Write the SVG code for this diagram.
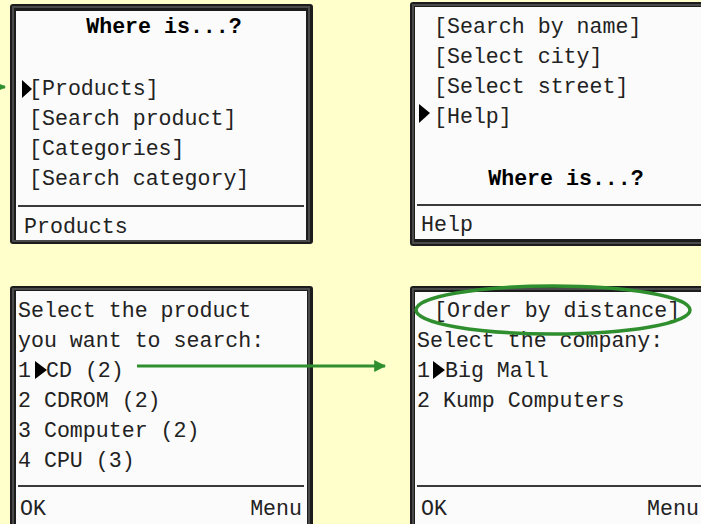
<svg xmlns="http://www.w3.org/2000/svg" width="701" height="524" viewBox="0 0 701 524">
<defs>
<style>
.frame{fill:#1c1c1c}
.bevel{fill:none;stroke:#4a4a4a;stroke-width:2}
.screen{fill:#fbfbfb}
.sep{stroke:#3a3a3a;stroke-width:2}
.t{font-family:"Liberation Mono","DejaVu Sans Mono",monospace;font-size:21.6px;fill:#222}
.b{font-weight:bold;fill:#000}
.tri{fill:#000}
.conn{stroke:#2f8f2f;stroke-width:3;fill:none}
</style>
<marker id="ah" viewBox="0 0 10 10" refX="9" refY="5" markerWidth="4" markerHeight="4" orient="auto" markerUnits="strokeWidth">
<path d="M0,0 L10,5 L0,10 z" fill="#2f8f2f"/>
</marker>
</defs>
<rect width="701" height="524" fill="#ffffcc"/>

<g id="screen1">
<rect class="frame" x="10" y="4" width="303" height="240" rx="3"/>
<rect class="bevel" x="13" y="7" width="296" height="234"/>
<rect class="screen" x="16" y="11" width="290" height="229"/>
<text class="t b" x="164" y="33" text-anchor="middle">Where is...?</text>
<polygon class="tri" points="22,80 32,89 22,98"/>
<text class="t" x="29" y="95">[Products]</text>
<text class="t" x="29" y="125">[Search product]</text>
<text class="t" x="29" y="155">[Categories]</text>
<text class="t" x="29" y="185">[Search category]</text>
<line class="sep" x1="18" y1="206" x2="304" y2="206"/>
<text class="t" x="24" y="233">Products</text>
</g>

<g id="screen2">
<rect class="frame" x="410" y="2" width="300" height="244" rx="3"/>
<rect class="bevel" x="413" y="5" width="300" height="238"/>
<rect class="screen" x="415" y="7" width="300" height="232"/>
<text class="t" x="434" y="33">[Search by name]</text>
<text class="t" x="434" y="63">[Select city]</text>
<text class="t" x="434" y="93">[Select street]</text>
<polygon class="tri" points="419,104 430,113 419,123"/>
<text class="t" x="434" y="123">[Help]</text>
<text class="t b" x="566" y="185" text-anchor="middle">Where is...?</text>
<line class="sep" x1="417" y1="205" x2="701" y2="205"/>
<text class="t" x="421" y="231">Help</text>
</g>

<g id="screen3">
<rect class="frame" x="10" y="286" width="303" height="250" rx="3"/>
<rect class="bevel" x="13" y="289" width="296" height="250"/>
<rect class="screen" x="16" y="291" width="291" height="250"/>
<text class="t" x="18" y="317">Select the product</text>
<text class="t" x="18" y="347">you want to search:</text>
<text class="t" x="18" y="377">1</text>
<polygon class="tri" points="35,361 47,370 35,379"/>
<text class="t" x="46" y="377">CD (2)</text>
<text class="t" x="18" y="407">2 CDROM (2)</text>
<text class="t" x="18" y="437">3 Computer (2)</text>
<text class="t" x="18" y="467">4 CPU (3)</text>
<line class="sep" x1="18" y1="486" x2="304" y2="486"/>
<text class="t" x="20" y="515">OK</text>
<text class="t" x="302" y="515" text-anchor="end">Menu</text>
</g>

<g id="screen4">
<rect class="frame" x="410" y="286" width="300" height="250" rx="3"/>
<rect class="bevel" x="413" y="289" width="300" height="250"/>
<rect class="screen" x="415" y="292" width="300" height="250"/>
<text class="t" x="434" y="317">[Order by distance]</text>
<text class="t" x="417" y="347">Select the company:</text>
<text class="t" x="417" y="377">1</text>
<polygon class="tri" points="433,361 445,370 433,379"/>
<text class="t" x="445" y="377">Big Mall</text>
<text class="t" x="417" y="407">2 Kump Computers</text>
<line class="sep" x1="417" y1="486" x2="701" y2="486"/>
<text class="t" x="421" y="515">OK</text>
<text class="t" x="647" y="515">Menu</text>
<ellipse cx="553" cy="310" rx="137" ry="24" fill="none" stroke="#2f8f2f" stroke-width="3.5"/>
</g>

<g id="connectors">
<line class="conn" x1="137" y1="366" x2="385" y2="366" marker-end="url(#ah)"/>
<line class="conn" x1="-10" y1="87" x2="5" y2="87" marker-end="url(#ah)"/>
</g>
</svg>
